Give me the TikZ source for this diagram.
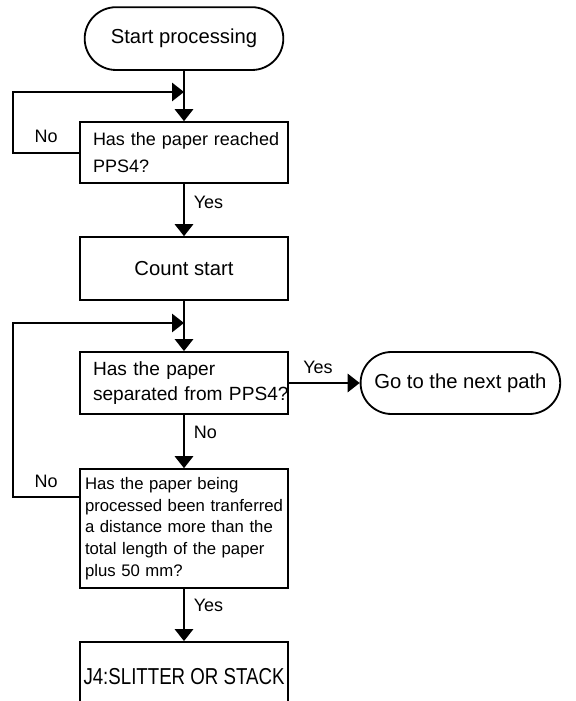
\documentclass[tikz,border=0pt]{standalone}
\usepackage{fontspec}
\setmainfont{Liberation Sans}
\usetikzlibrary{arrows.meta, shapes.misc, positioning}
% lines in the boxes are broken by hand
\hyphenpenalty=10000
\exhyphenpenalty=10000
\tikzset{
  flowline/.style = {line width=1.3pt, -{Triangle[length=3mm, width=4.6mm]}},
  termbox/.style  = {rounded rectangle, draw, line width=1.3pt, minimum width=5.2cm,
                     minimum height=1.57cm, font=\fontsize{14.4}{17}\selectfont},
  stepbox/.style  = {rectangle, draw, line width=1.3pt, minimum width=5.2cm,
                     font=\fontsize{14.4}{17}\selectfont},
  askbox/.style   = {stepbox, text width=4.55cm, inner xsep=0.325cm, align=left},
  lbl/.style      = {font=\fontsize{12.8}{15}\selectfont},
}

\begin{document}
\begin{tikzpicture}[x=1cm,y=1cm]
  \useasboundingbox (0,0) rectangle (14.375,17.525);
  \clip (0,0) rectangle (14.375,17.525);
  % boxes
  \node[termbox] (start) at (4.6,16.56) {Start processing};
  \node[askbox, minimum height=1.525cm, font=\fontsize{12.8}{19}\selectfont] (reach) at (4.6,13.71)
    {Has~the~paper~reached\\PPS4?};
  \node[stepbox, minimum height=1.575cm] (count) at (4.6,10.81) {Count start};
  \node[askbox, minimum height=1.55cm, font=\fontsize{13.6}{17.3}\selectfont] (apart) at (4.6,7.95)
    {Has the paper\\separated~from~PPS4?};
  \node[termbox, minimum width=5.225cm, minimum height=1.55cm] (next) at (11.51,7.95) {Go to the next path};
  \node[stepbox, minimum height=2.975cm, text width=4.95cm, inner xsep=0.125cm, align=left,
        font=\fontsize{11.9}{15.4}\selectfont] (moved) at (4.6,4.31)
    {Has the paper being\\processed~been~tranferred\\a distance more than the\\total length of the paper\\plus 50 mm?};
  \node[stepbox, minimum height=1.75cm, inner xsep=0.05cm] (slit) at (4.6,0.6)
    {\scalebox{0.81}[1]{\fontsize{16.4}{19}\selectfont J4:SLITTER OR STACK}};
  % loop joins
  \coordinate (join1) at (4.6,15.225);
  \coordinate (join2) at (4.6,9.45);
  % arrows
  \draw[flowline] (start) -- (reach);
  \draw[flowline] (reach.west) -- node[lbl, above=3pt] {No} ++(-1.65,0) |- (join1);
  \draw[flowline] (reach) -- node[lbl, right=3pt, pos=0.35] {Yes} (count);
  \draw[flowline] (count) -- (apart);
  \draw[flowline] (apart) -- node[lbl, above=3pt, pos=0.41] {Yes} (next);
  \draw[flowline] (apart) -- node[lbl, right=3pt, pos=0.33] {No} (moved);
  \draw[flowline] ([yshift=-0.725cm]moved.north west) -- node[lbl, above=3pt] {No} ++(-1.65,0) |- (join2);
  \draw[flowline] (moved) -- node[lbl, right=3pt, pos=0.31] {Yes} (slit);
\end{tikzpicture}
\end{document}
